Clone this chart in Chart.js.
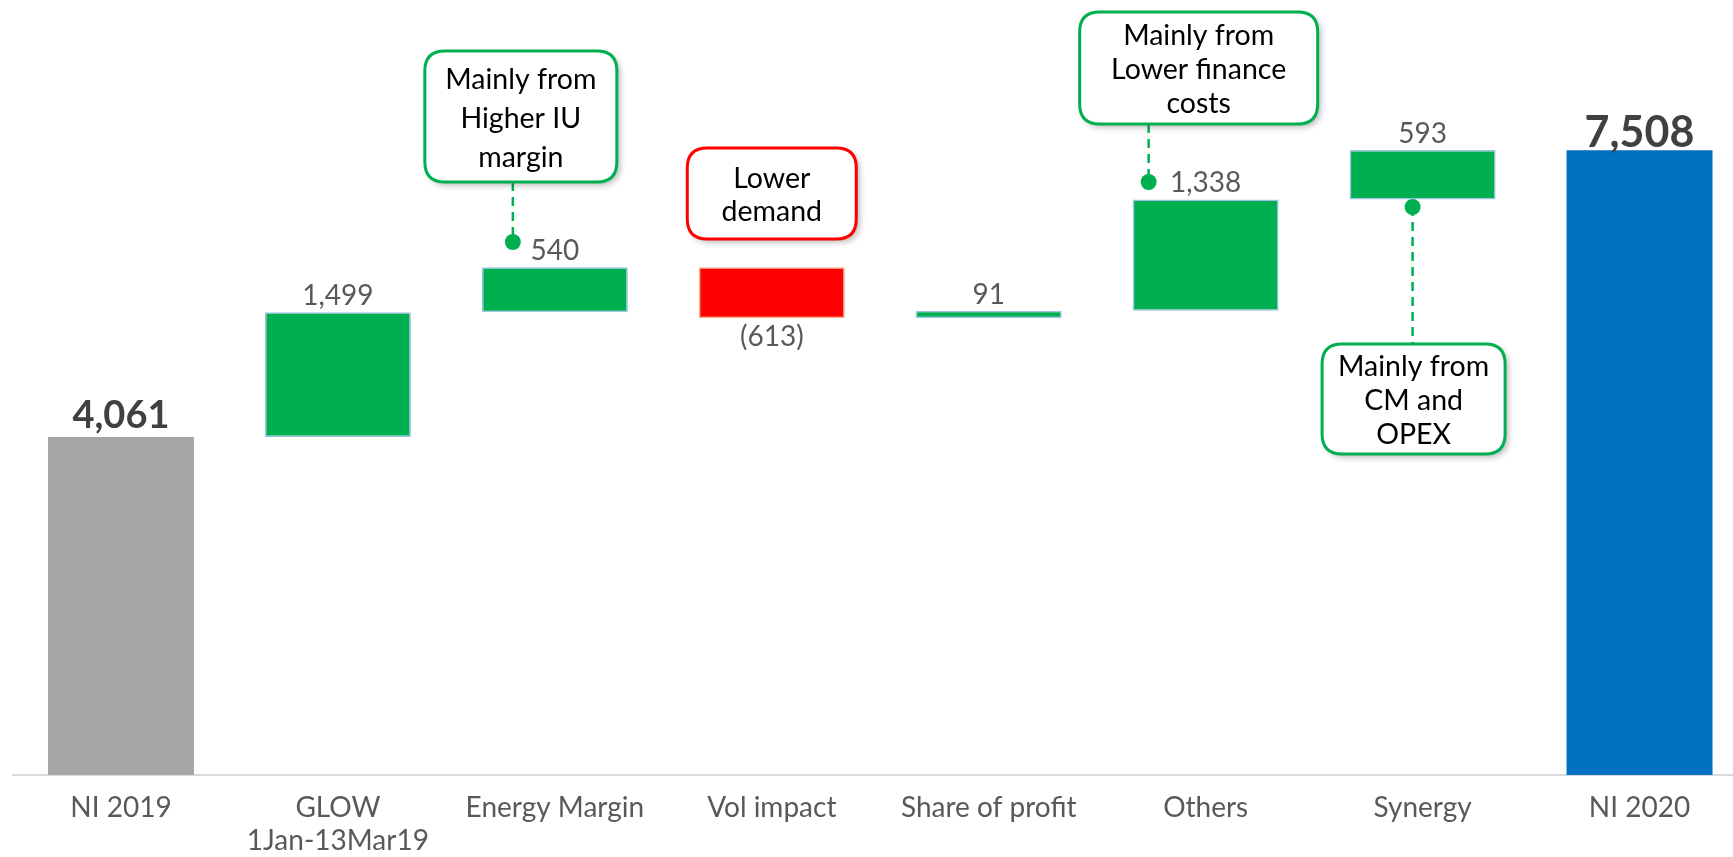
<!DOCTYPE html>
<html>
<head>
<meta charset="utf-8">
<script src="https://cdn.jsdelivr.net/npm/chart.js@4.4.1/dist/chart.umd.min.js"></script>
<style>
  html, body { margin: 0; padding: 0; background: #fff; overflow: hidden; }
  #wrap { width: 1760px; height: 857px; }
</style>
</head>
<body>
<div id="wrap"><canvas id="chart" width="1760" height="857"></canvas></div>
<script>
// waterfall data
var categories = ['NI 2019', ['GLOW', '1Jan-13Mar19'], 'Energy Margin', 'Vol impact', 'Share of profit', 'Others', 'Synergy', 'NI 2020'];
var startValue = 4061;
var deltas = [1499, 540, -613, 91, 1338, 593];
var endValue = 7508;
var valueLabels = ['4,061', '1,499', '540', '(613)', '91', '1,338', '593', '7,508'];

// callouts: index of bar, text lines
var noteBars = [2, 3, 5, 6];
var noteTexts = [
  ['Mainly from', 'Higher IU', 'margin'],
  ['Lower', 'demand'],
  ['Mainly from', 'Lower finance', 'costs'],
  ['Mainly from', 'CM and', 'OPEX']
];

var GREEN = '#00B050';
var RED = '#FF0000';

// build floating bars from the running total
var floats = [[0, startValue]];
var colors = ['#A6A6A6'];
var borders = ['#A6A6A6'];
var borderW = [0];
var total = startValue;
for (var i = 0; i < deltas.length; i++) {
  floats.push([total, total + deltas[i]]);
  total += deltas[i];
  if (deltas[i] < 0) {
    colors.push(RED);
    borders.push('#F4B183');
  } else {
    colors.push(GREEN);
    borders.push('#9DC3E6');
  }
  borderW.push(1.5);
}
floats.push([0, endValue]);
colors.push('#0070C0');
borders.push('#0070C0');
borderW.push(0);

// callout layout (pixels, relative to bar centre)
var noteLayout = [
  { dx: -34, top: 51, w: 192, h: 131, lh: 39, border: GREEN, line: { dx: -42, dotY: 242 } },
  { dx: 0, top: 148, w: 169, h: 91, lh: 33, border: RED, line: null },
  { dx: -7, top: 12, w: 238, h: 112, lh: 34, border: GREEN, line: { dx: -57, dotY: 182 } },
  { dx: -9, top: 344, w: 183, h: 110, lh: 34, border: GREEN, line: { dx: -10, dotY: 207 } }
];

function roundRect(ctx, x, y, w, h, r) {
  ctx.beginPath();
  ctx.moveTo(x + r, y);
  ctx.lineTo(x + w - r, y);
  ctx.quadraticCurveTo(x + w, y, x + w, y + r);
  ctx.lineTo(x + w, y + h - r);
  ctx.quadraticCurveTo(x + w, y + h, x + w - r, y + h);
  ctx.lineTo(x + r, y + h);
  ctx.quadraticCurveTo(x, y + h, x, y + h - r);
  ctx.lineTo(x, y + r);
  ctx.quadraticCurveTo(x, y, x + r, y);
  ctx.closePath();
}

var labelPlugin = {
  id: 'labels',
  afterDatasetsDraw: function(chart) {
    var ctx = chart.ctx;
    var meta = chart.getDatasetMeta(0);
    ctx.save();
    ctx.textAlign = 'center';
    for (var i = 0; i < meta.data.length; i++) {
      var bar = meta.data[i];
      var top = Math.min(bar.y, bar.base);
      var bottom = Math.max(bar.y, bar.base);
      if (i === 0 || i === meta.data.length - 1) {
        ctx.font = 'bold ' + (i === 0 ? 38 : 43) + 'px Lato';
        ctx.fillStyle = '#404040';
        ctx.textBaseline = 'alphabetic';
        ctx.fillText(valueLabels[i], bar.x, top - (i === 0 ? 9 : 3));
      } else if (deltas[i - 1] < 0) {
        ctx.font = '28px Lato';
        ctx.fillStyle = '#595959';
        ctx.textBaseline = 'top';
        ctx.fillText(valueLabels[i], bar.x, bottom + 5);
      } else {
        ctx.font = '28px Lato';
        ctx.fillStyle = '#595959';
        ctx.textBaseline = 'alphabetic';
        ctx.fillText(valueLabels[i], bar.x, top - 7);
      }
    }

    // callouts
    for (var n = 0; n < noteBars.length; n++) {
      var b = meta.data[noteBars[n]];
      var L = noteLayout[n];
      var cx = b.x + L.dx;
      var x = cx - L.w / 2;

      if (L.line) {
        var lx = b.x + L.line.dx;
        var y0, y1;
        if (L.line.dotY < L.top) { y0 = L.line.dotY; y1 = L.top; }
        else { y0 = L.top + L.h; y1 = L.line.dotY; }
        ctx.strokeStyle = L.border;
        ctx.lineWidth = 2.5;
        ctx.setLineDash([9, 6]);
        ctx.beginPath();
        ctx.moveTo(lx, y0);
        ctx.lineTo(lx, y1);
        ctx.stroke();
        ctx.setLineDash([]);
        ctx.fillStyle = L.border;
        ctx.beginPath();
        ctx.arc(lx, L.line.dotY, 8, 0, Math.PI * 2);
        ctx.fill();
      }

      ctx.save();
      ctx.shadowColor = 'rgba(0,0,0,0.3)';
      ctx.shadowBlur = 6;
      ctx.shadowOffsetX = 3;
      ctx.shadowOffsetY = 3;
      roundRect(ctx, x, L.top, L.w, L.h, 20);
      ctx.fillStyle = '#fff';
      ctx.fill();
      ctx.restore();
      roundRect(ctx, x, L.top, L.w, L.h, 20);
      ctx.strokeStyle = L.border;
      ctx.lineWidth = 3;
      ctx.stroke();

      var lines = noteTexts[n];
      var ty = L.top + L.h / 2 + 2 - (lines.length - 1) * L.lh / 2;
      ctx.font = '28.5px Lato';
      ctx.fillStyle = '#000';
      ctx.textBaseline = 'middle';
      for (var k = 0; k < lines.length; k++) {
        ctx.fillText(lines[k], cx, ty + k * L.lh);
      }
    }
    ctx.restore();
  }
};

var ctx = document.getElementById('chart');
var chart = new Chart(ctx, {
  type: 'bar',
  data: {
    labels: categories,
    datasets: [{
      data: floats,
      backgroundColor: colors,
      borderColor: borders,
      borderWidth: borderW,
      borderSkipped: false,
      barPercentage: 0.673,
      categoryPercentage: 1
    }]
  },
  options: {
    responsive: false,
    animation: false,
    layout: { padding: { left: 12.5, right: 12, top: 26, bottom: 0 } },
    plugins: {
      legend: { display: false },
      tooltip: { enabled: false }
    },
    scales: {
      x: {
        grid: { display: false, drawTicks: false },
        border: { display: true, color: '#D9D9D9', width: 2 },
        ticks: {
          color: '#595959',
          font: { family: 'Lato', size: 28 },
          padding: 16,
          maxRotation: 0,
          autoSkip: false
        },
        afterFit: function(scale) { scale.height = 82; }
      },
      y: {
        display: false,
        min: 0,
        max: 9000
      }
    }
  },
  plugins: [labelPlugin]
});
</script>
</body>
</html>
